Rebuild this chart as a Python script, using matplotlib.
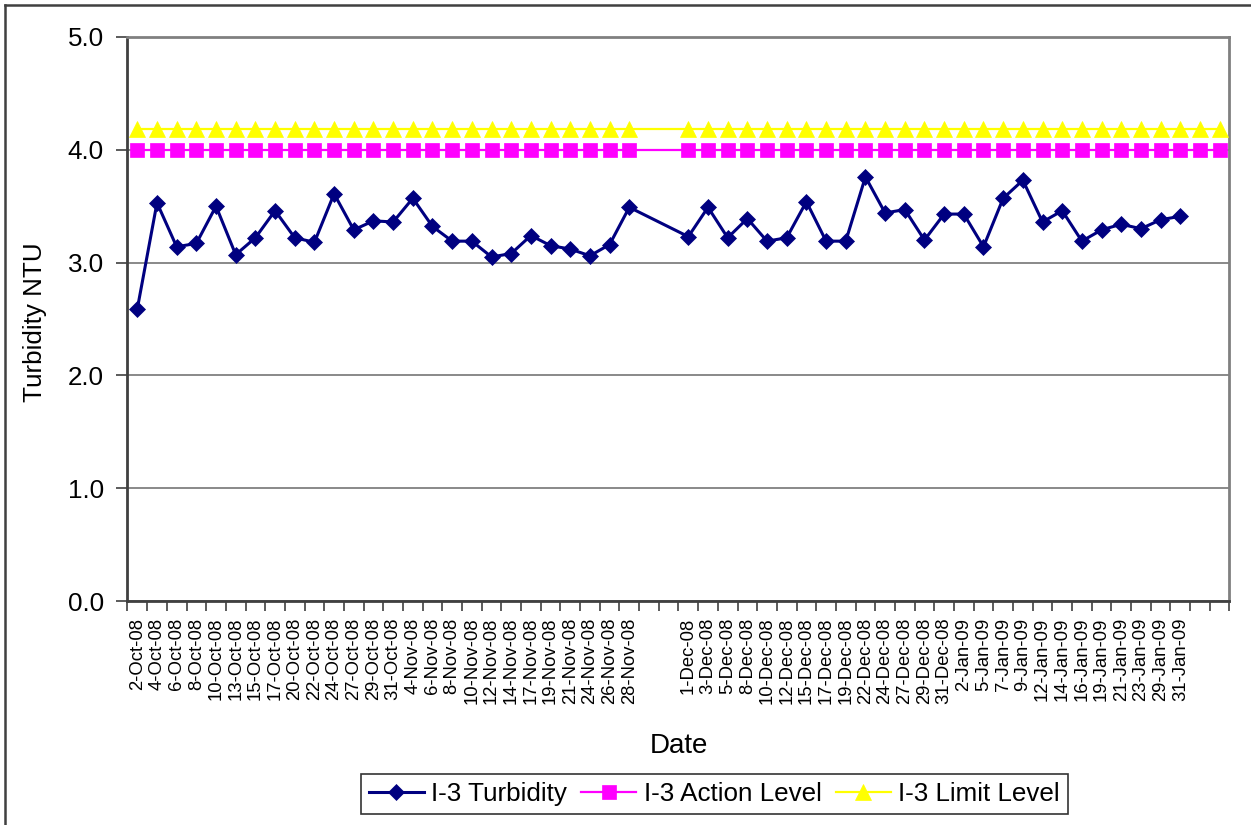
import matplotlib
matplotlib.use("Agg")
import matplotlib.pyplot as plt
from matplotlib.lines import Line2D
import numpy as np

plt.rcParams['font.family'] = ['Liberation Sans', 'DejaVu Sans']

# category labels (Excel-style text axis, blanks are empty categories)
oct_dates = ['2-Oct-08', '4-Oct-08', '6-Oct-08', '8-Oct-08', '10-Oct-08', '13-Oct-08', '15-Oct-08',
             '17-Oct-08', '20-Oct-08', '22-Oct-08', '24-Oct-08', '27-Oct-08', '29-Oct-08', '31-Oct-08']
nov_dates = ['4-Nov-08', '6-Nov-08', '8-Nov-08', '10-Nov-08', '12-Nov-08', '14-Nov-08', '17-Nov-08',
             '19-Nov-08', '21-Nov-08', '24-Nov-08', '26-Nov-08', '28-Nov-08']
dec_dates = ['1-Dec-08', '3-Dec-08', '5-Dec-08', '8-Dec-08', '10-Dec-08', '12-Dec-08', '15-Dec-08',
             '17-Dec-08', '19-Dec-08', '22-Dec-08', '24-Dec-08', '27-Dec-08', '29-Dec-08', '31-Dec-08']
jan_dates = ['2-Jan-09', '5-Jan-09', '7-Jan-09', '9-Jan-09', '12-Jan-09', '14-Jan-09', '16-Jan-09',
             '19-Jan-09', '21-Jan-09', '23-Jan-09', '29-Jan-09', '31-Jan-09']

oct_turb = [2.59, 3.53, 3.14, 3.17, 3.50, 3.07, 3.22, 3.46, 3.22, 3.18, 3.61, 3.29, 3.37, 3.36]
nov_turb = [3.57, 3.32, 3.19, 3.19, 3.05, 3.08, 3.24, 3.15, 3.12, 3.06, 3.16, 3.49]
dec_turb = [3.23, 3.49, 3.22, 3.39, 3.19, 3.22, 3.54, 3.19, 3.19, 3.76, 3.44, 3.47, 3.20, 3.43]
jan_turb = [3.43, 3.14, 3.57, 3.73, 3.36, 3.46, 3.19, 3.29, 3.34, 3.30, 3.38, 3.41]

action_level = 4.0
limit_level = 4.18

labels = oct_dates + nov_dates + ['', ''] + dec_dates + jan_dates + ['', '']
turbidity = oct_turb + nov_turb + [None, None] + dec_turb + jan_turb + [None, None]
action = [action_level] * 26 + [None, None] + [action_level] * 28
limit = [limit_level] * 26 + [None, None] + [limit_level] * 28


def present(vals):
    # Excel joins the line over empty cells, so drop them
    xs = [i for i, v in enumerate(vals) if v is not None]
    ys = [v for v in vals if v is not None]
    return xs, ys


fig = plt.figure(figsize=(12.51, 8.25), dpi=100)
ax = fig.add_axes([0.1019, 0.2715, 0.8809, 0.6837])

x, y = present(limit)
ax.plot(x, y, color='#FFFF00', lw=1.6, marker='^', ms=11.5, mec='#FFFF00', mew=0.5,
        label='I-3 Limit Level', zorder=3)
x, y = present(action)
ax.plot(x, y, color='#FF00FF', lw=1.6, marker='s', ms=10.5, mec='#FF00FF', mew=0.5,
        label='I-3 Action Level', zorder=3)
x, y = present(turbidity)
ax.plot(x, y, color='#000080', lw=2.2, marker='D', ms=8.5, mec='#000080', mew=0.5,
        label='I-3 Turbidity', zorder=4)

ax.set_xlim(-0.5, len(labels) - 0.5)
ax.set_ylim(0, 5)
ax.set_yticks(np.arange(0, 5.01, 1.0))
ax.set_yticklabels(['%.1f' % v for v in np.arange(0, 5.01, 1.0)])
ax.yaxis.grid(True, color='#808080', lw=1.3)
ax.set_axisbelow(True)

ax.set_xticks(range(len(labels)))
ax.set_xticklabels(labels, rotation=90, fontsize=13.3)
ax.set_xticks(np.arange(-0.5, len(labels), 1.0), minor=True)
ax.tick_params(axis='x', which='major', length=0, pad=12)
ax.tick_params(axis='x', which='minor', length=7, width=1.2, color='#404040', direction='out')
ax.tick_params(axis='y', length=8, width=1.2, color='#404040', labelsize=18.7, pad=9)

for side in ['top', 'right']:
    ax.spines[side].set_color('#808080')
    ax.spines[side].set_linewidth(2)
for side in ['left', 'bottom']:
    ax.spines[side].set_color('#404040')
    ax.spines[side].set_linewidth(2)

ax.set_ylabel('Turbidity NTU', fontsize=18.7)
ax.yaxis.set_label_coords(-0.073, 0.495)
ax.set_xlabel('Date', fontsize=20)
ax.xaxis.set_label_coords(0.5, -0.234)

handles, labs = ax.get_legend_handles_labels()
leg = fig.legend(handles[::-1], labs[::-1], loc='center', bbox_to_anchor=(0.5711, 0.0376),
                 ncol=3, fontsize=18.7, frameon=True, fancybox=False, edgecolor='black',
                 handlelength=2.1, handletextpad=0.3, columnspacing=0.55, borderpad=0.3)
leg.get_frame().set_linewidth(1.2)

# outer chart border
fig.add_artist(Line2D([0.0037, 0.0037], [0, 0.994], color='#404040', lw=1.8))
fig.add_artist(Line2D([0.0037, 1.0], [0.994, 0.994], color='#404040', lw=1.8))

fig.savefig('out.png', dpi=100)
